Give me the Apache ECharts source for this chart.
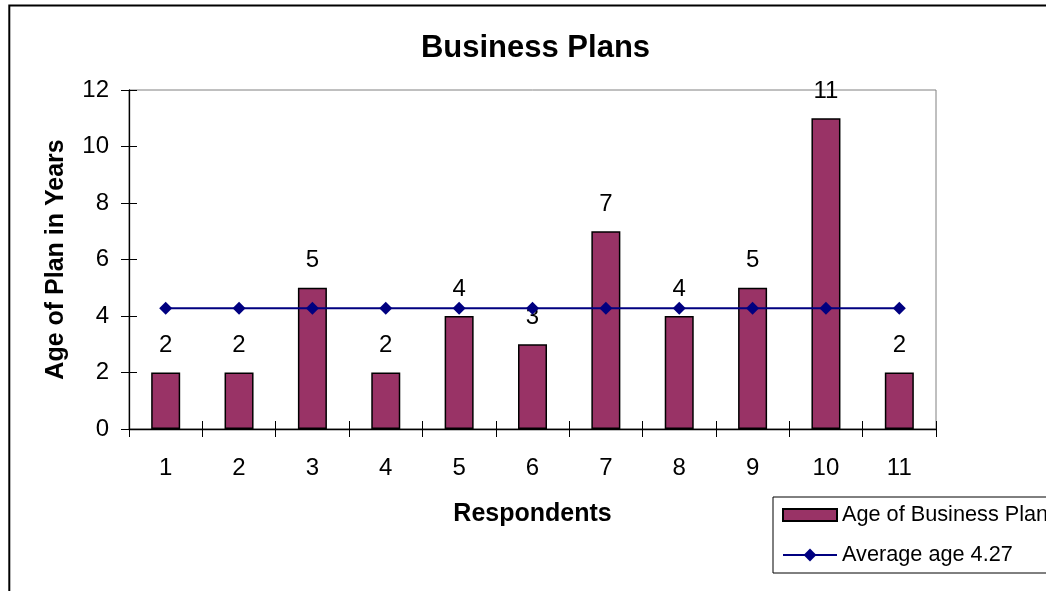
<!DOCTYPE html>
<html>
<head>
<meta charset="utf-8">
<script src="https://cdn.jsdelivr.net/npm/echarts@6/dist/echarts.min.js"></script>
<style>
  html, body { margin: 0; padding: 0; background: #fff; }
  #chart { width: 1046px; height: 591px; }
</style>
</head>
<body>
<div id="chart"></div>
<script>
// Respondents and the age of each business plan (years)
const respondents = ['1', '2', '3', '4', '5', '6', '7', '8', '9', '10', '11'];
const planAges = [2, 2, 5, 2, 4, 3, 7, 4, 5, 11, 2];
const averageAge = [4.27, 4.27, 4.27, 4.27, 4.27, 4.27, 4.27, 4.27, 4.27, 4.27, 4.27];
const barName = 'Age of Business Plan';
const lineName = 'Average age 4.27';

const FONT = '"Liberation Sans", Arial, sans-serif';
const chart = echarts.init(document.getElementById('chart'));

const yScale = { min: 0, max: 12, interval: 2 };
const legendText = { fontFamily: FONT, fontSize: 21.7, color: '#000' };

chart.setOption({
  animation: false,
  backgroundColor: '#fff',
  title: {
    text: 'Business Plans',
    left: 535.5,
    textAlign: 'center',
    top: 33,
    padding: 0,
    textStyle: { fontFamily: FONT, fontSize: 31, fontWeight: 'bold', color: '#000' }
  },
  graphic: [{
    type: 'rect',
    shape: { x: 9.3, y: 5.5, width: 1200, height: 800 },
    style: { fill: 'none', stroke: '#000', lineWidth: 2 },
    z: 100
  }],
  legend: [{
    // framed box holding both entries; the line entry sits in its lower half
    orient: 'vertical',
    left: 773,
    top: 497,
    padding: [7, 10, 47, 9],
    itemWidth: 54,
    itemHeight: 12,
    borderColor: '#000',
    borderWidth: 1,
    backgroundColor: '#fff',
    textStyle: legendText,
    data: [{ name: barName, icon: 'rect' }]
  }, {
    orient: 'vertical',
    left: 782,
    top: 544,
    padding: 0,
    itemWidth: 54,
    itemHeight: 16,
    textStyle: legendText,
    data: [lineName]
  }],
  grid: {
    left: 129, top: 90, width: 807, height: 339,
    show: true, borderColor: '#808080', borderWidth: 1
  },
  xAxis: [{
    type: 'category',
    data: respondents,
    name: 'Respondents',
    nameLocation: 'middle',
    nameGap: 73,
    nameTextStyle: { fontFamily: FONT, fontSize: 25, fontWeight: 'bold', color: '#000' },
    axisLine: { lineStyle: { color: '#000', width: 1.3 } },
    axisTick: { show: true, length: 8, alignWithLabel: false, lineStyle: { color: '#000' } },
    axisLabel: { margin: 27, fontFamily: FONT, fontSize: 24, color: '#000' },
    splitLine: { show: false }
  }, {
    // inner half of the crossing tick marks
    type: 'category',
    data: respondents,
    position: 'bottom',
    axisLine: { show: false },
    axisTick: { show: true, inside: true, length: 8, lineStyle: { color: '#000' } },
    axisLabel: { show: false },
    splitLine: { show: false }
  }],
  yAxis: [{
    type: 'value',
    min: yScale.min, max: yScale.max, interval: yScale.interval,
    name: 'Age of Plan in Years',
    nameLocation: 'middle',
    nameGap: 60,
    nameRotate: 90,
    nameTextStyle: { fontFamily: FONT, fontSize: 25, fontWeight: 'bold', color: '#000' },
    axisLine: { show: true, lineStyle: { color: '#000', width: 1.3 } },
    axisTick: { show: true, length: 8, lineStyle: { color: '#000' } },
    axisLabel: { margin: 20, fontFamily: FONT, fontSize: 24, color: '#000' },
    splitLine: { show: false }
  }, {
    // inner half of the crossing tick marks
    type: 'value',
    position: 'left',
    min: yScale.min, max: yScale.max, interval: yScale.interval,
    axisLine: { show: false },
    axisTick: { show: true, inside: true, length: 8, lineStyle: { color: '#000' } },
    axisLabel: { show: false },
    splitLine: { show: false }
  }],
  series: [{
    name: barName,
    type: 'bar',
    data: planAges,
    barWidth: 29,
    itemStyle: { color: '#993366', borderColor: '#000', borderWidth: 1.5 },
    label: {
      show: true, position: 'top', distance: 15,
      fontFamily: FONT, fontSize: 24, color: '#000'
    },
    z: 2
  }, {
    name: lineName,
    type: 'line',
    data: averageAge,
    symbol: 'diamond',
    symbolSize: 13,
    lineStyle: { color: '#000080', width: 2 },
    itemStyle: { color: '#000080' },
    z: 3
  }]
});
</script>
</body>
</html>
